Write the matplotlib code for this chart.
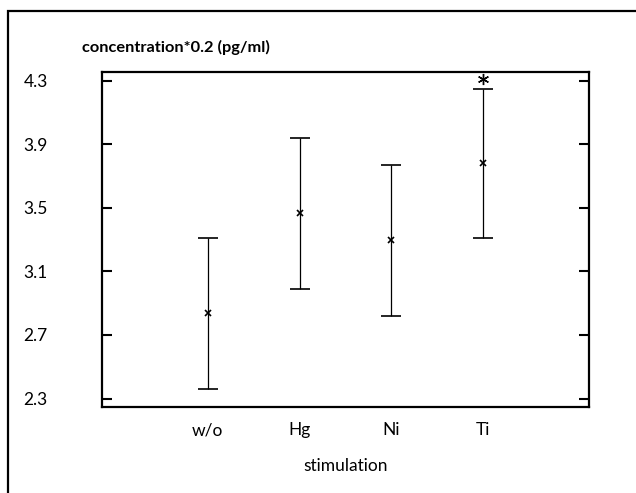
import matplotlib.pyplot as plt
from matplotlib.patches import Rectangle
import numpy as np

plt.rcParams['font.family'] = ['Lato', 'DejaVu Sans']

# group means with lower / upper ends of the error bars
groups = ['w/o', 'Hg', 'Ni', 'Ti']
means = [2.84, 3.47, 3.30, 3.78]
lower = [2.36, 2.99, 2.82, 3.31]
upper = [3.31, 3.94, 3.77, 4.25]
yticks = [2.3, 2.7, 3.1, 3.5, 3.9, 4.3]
star_y = 4.31

W, H = 636, 493
fig = plt.figure(figsize=(W / 100, H / 100), dpi=100)

# outer frame, running off the right and bottom edges
fig.patches.append(Rectangle((8 / W, -0.1), 1.2, 1.1 - 11 / H, transform=fig.transFigure,
                             fill=False, edgecolor='black', linewidth=1.6))

left, right, top, bottom = 102, 589, 72, 407
ax = fig.add_axes([left / W, 1 - bottom / H, (right - left) / W, (bottom - top) / H])

x = np.arange(1, len(groups) + 1)
m = np.array(means)
yerr = [m - np.array(lower), np.array(upper) - m]
ax.errorbar(x, m, yerr=yerr, fmt='x', color='black', markersize=4, mew=1.2,
            ecolor='black', elinewidth=0.9, capsize=7, capthick=0.9)
ax.plot([4], [star_y], marker=(6, 2, 0), color='black', markersize=8, mew=1.0)

ax.set_xlim(-0.15, 5.15)
ax.set_ylim(2.247, 4.354)
ax.set_xticks(x)
ax.set_xticklabels(groups, fontsize=12.5)
ax.tick_params(axis='x', length=0, pad=11)
ax.set_yticks(yticks)
ax.set_yticklabels([f'{v:.1f}' for v in yticks], fontsize=12.5)
ax.tick_params(axis='y', direction='in', length=7, width=1.5, right=True, pad=39)
for s in ax.spines.values():
    s.set_linewidth(1.6)

fig.text(346 / W, 1 - 466 / H, 'stimulation', ha='center', va='center', fontsize=12.5)
fig.text(82 / W, 1 - 47 / H, 'concentration*0.2 (pg/ml)', ha='left', va='center',
         fontsize=11.8, fontweight='bold')

fig.savefig('out.png', dpi=100)
